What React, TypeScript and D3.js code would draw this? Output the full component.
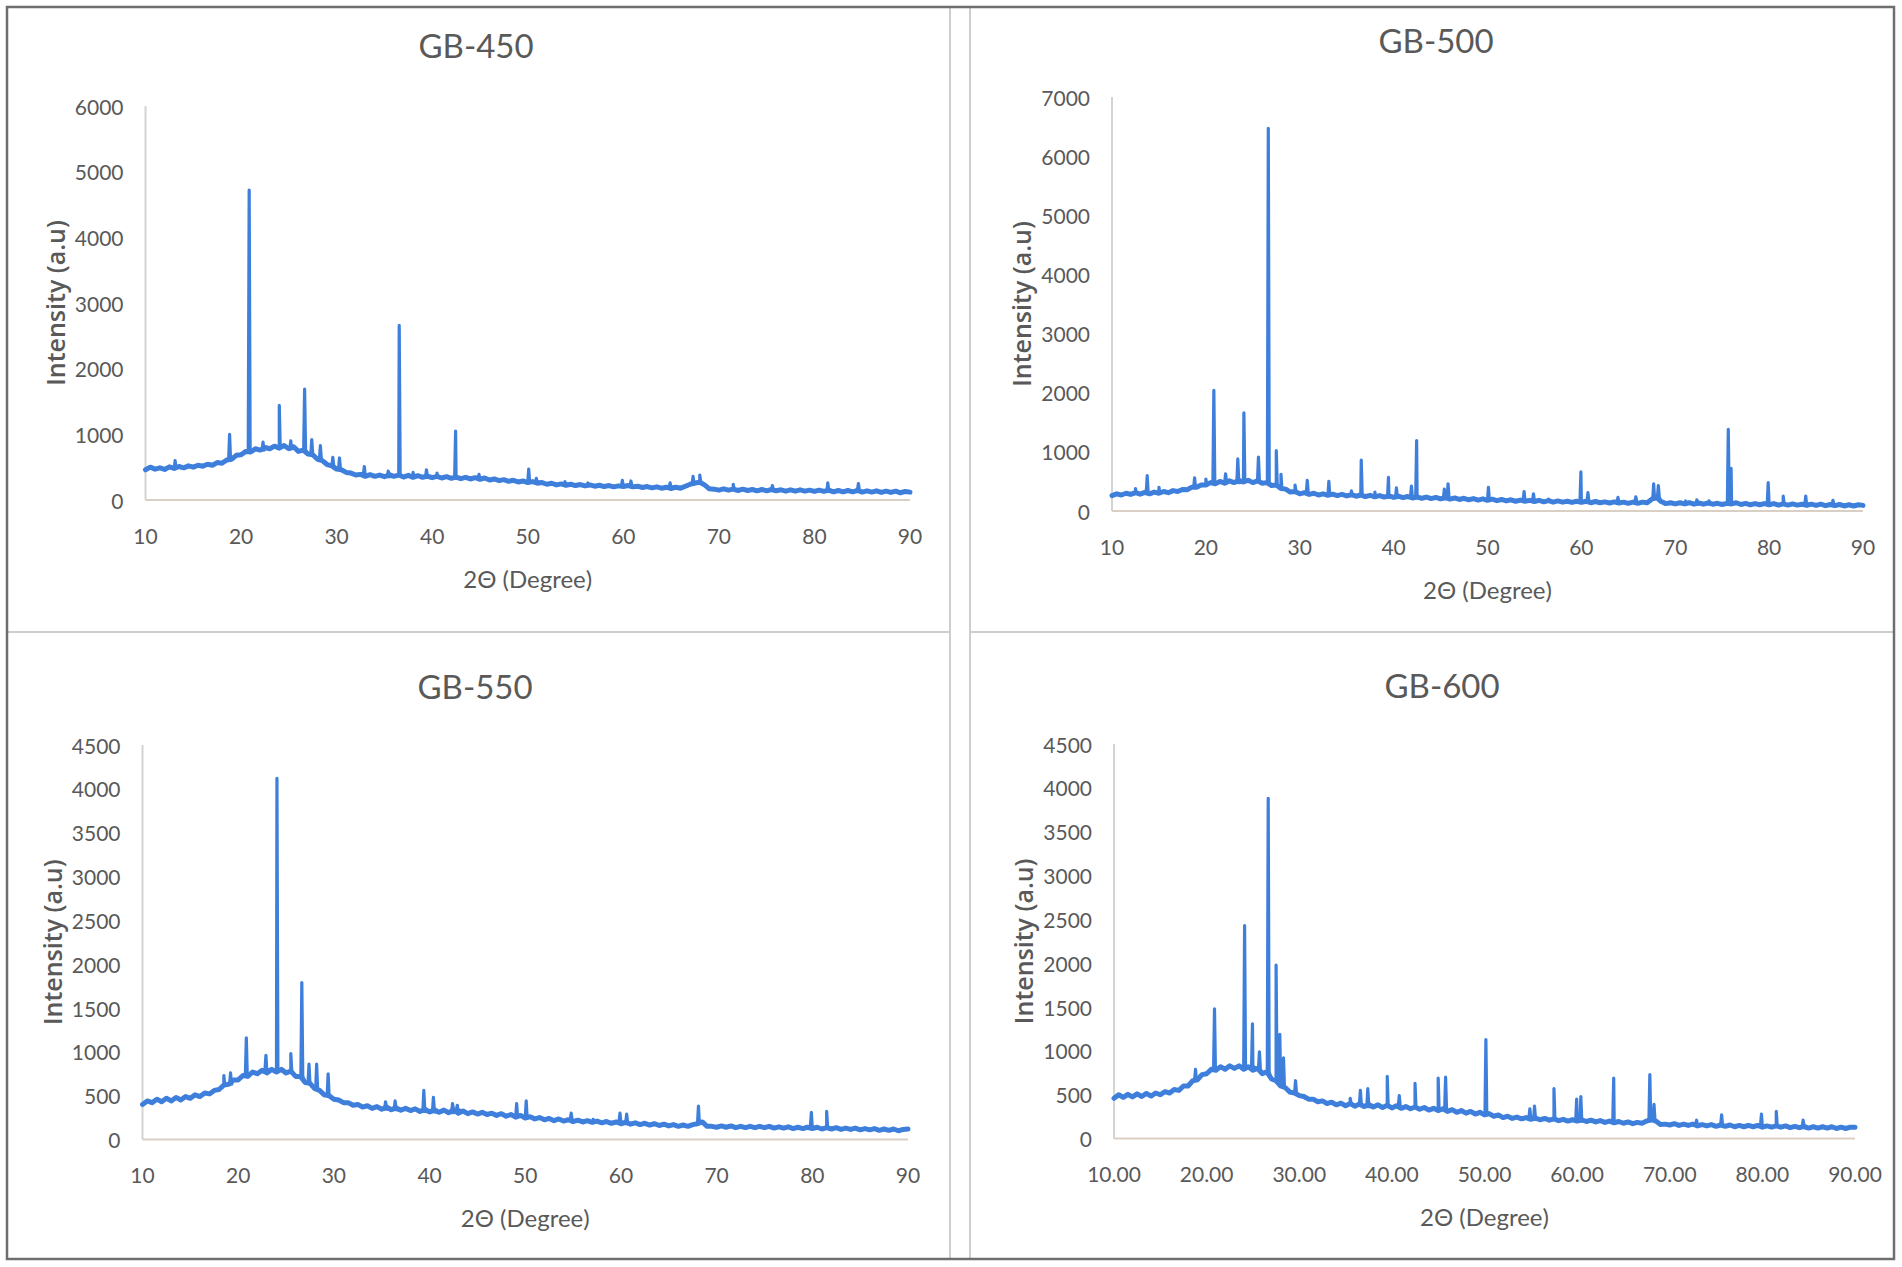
import React from "react";
import * as d3 from "d3";

// ---- Data ----
// Baseline intensities sampled every 0.5° from 10° to 90° (161 samples)
const STEP_START = 10;
const STEP_SIZE = 0.5;

const titles = ["GB-450", "GB-500", "GB-550", "GB-600"];
const yMaxes = [6000, 7000, 4500, 4500];
const yTickSteps = [1000, 1000, 500, 500];
const xTicks = [10, 20, 30, 40, 50, 60, 70, 80, 90];
const xTickDecimals = [0, 0, 0, 2];

const base450 = [
  460, 500, 470, 490, 465, 505, 480, 510, 490, 520,
  500, 530, 515, 545, 530, 570, 560, 610, 620, 680,
  690, 740, 730, 780, 760, 800, 780, 820, 790, 830,
  780, 810, 740, 760, 700, 690, 620, 600, 540, 520,
  470, 460, 420, 410, 380, 390, 360, 385, 360, 380,
  355, 385, 360, 380, 350, 375, 345, 370, 345, 365,
  340, 360, 335, 355, 330, 350, 325, 345, 320, 340,
  315, 335, 305, 320, 295, 310, 285, 300, 275, 290,
  265, 280, 255, 265, 240, 255, 230, 245, 225, 240,
  220, 235, 215, 230, 210, 225, 205, 220, 200, 215,
  205, 220, 200, 210, 190, 205, 185, 200, 180, 195,
  175, 195, 180, 210, 240, 260, 270, 230, 170, 165,
  150, 170, 150, 165, 145, 165, 145, 160, 140, 160,
  140, 160, 140, 155, 135, 155, 135, 155, 135, 150,
  130, 150, 130, 150, 125, 145, 125, 145, 125, 145,
  120, 140, 120, 140, 115, 135, 115, 135, 110, 130,
  120,
];

const base500 = [
  260, 290, 270, 300, 280, 310, 285, 315, 290, 320,
  300, 330, 310, 345, 330, 365, 360, 400, 400, 440,
  440, 480, 460, 500, 470, 510, 480, 520, 490, 520,
  480, 510, 470, 480, 430, 440, 380, 370, 320, 330,
  290, 310, 280, 300, 270, 290, 265, 285, 260, 280,
  255, 275, 250, 270, 245, 265, 240, 260, 235, 255,
  230, 250, 225, 245, 220, 240, 215, 235, 210, 230,
  205, 225, 200, 220, 195, 215, 190, 210, 185, 205,
  180, 200, 175, 195, 170, 190, 165, 185, 165, 180,
  160, 180, 155, 175, 150, 170, 150, 165, 145, 165,
  145, 165, 140, 160, 140, 155, 135, 155, 135, 150,
  130, 150, 130, 150, 140, 200, 230, 160, 125, 140,
  120, 140, 120, 140, 115, 135, 115, 135, 115, 130,
  110, 130, 120, 140, 110, 130, 105, 125, 105, 125,
  105, 125, 100, 120, 100, 120, 100, 115, 95, 115,
  95, 115, 90, 110, 90, 110, 85, 105, 85, 105,
  95,
];

const base550 = [
  400, 440, 420, 460, 430, 470, 440, 480, 450, 490,
  470, 510, 490, 530, 520, 560, 570, 620, 630, 680,
  680, 730, 720, 770, 750, 790, 760, 800, 770, 800,
  760, 780, 720, 720, 650, 640, 580, 560, 510, 500,
  460, 450, 420, 420, 390, 400, 370, 385, 355, 375,
  345, 370, 340, 360, 335, 355, 330, 350, 320, 345,
  315, 340, 310, 335, 305, 340, 300, 325, 295, 315,
  290, 310, 285, 300, 275, 295, 265, 285, 255, 275,
  245, 260, 235, 250, 225, 240, 215, 235, 210, 225,
  205, 220, 200, 215, 195, 210, 190, 205, 185, 200,
  180, 195, 175, 190, 170, 185, 165, 180, 160, 175,
  155, 170, 150, 165, 150, 170, 180, 200, 150, 150,
  140, 155, 140, 155, 135, 150, 135, 150, 135, 150,
  135, 150, 130, 145, 130, 145, 125, 140, 125, 140,
  125, 140, 120, 135, 120, 135, 115, 130, 115, 130,
  110, 125, 110, 125, 105, 120, 105, 120, 100, 115,
  120,
];

const base600 = [
  460, 500, 470, 505, 475, 510, 480, 515, 485, 520,
  500, 535, 520, 560, 550, 600, 600, 660, 670, 730,
  740, 790, 780, 820, 790, 830, 800, 830, 790, 820,
  780, 800, 740, 760, 680, 660, 600, 580, 530, 520,
  490, 480, 450, 450, 420, 430, 400, 415, 385, 405,
  375, 400, 370, 395, 365, 390, 360, 385, 355, 380,
  350, 375, 345, 365, 340, 360, 335, 355, 325, 345,
  320, 340, 310, 330, 300, 320, 290, 310, 280, 300,
  270, 285, 255, 270, 240, 255, 230, 245, 225, 240,
  220, 235, 215, 230, 210, 225, 205, 220, 200, 215,
  200, 215, 195, 210, 190, 205, 185, 200, 180, 195,
  175, 190, 170, 185, 175, 200, 220, 200, 160, 165,
  155, 170, 150, 165, 150, 165, 145, 160, 145, 160,
  140, 155, 140, 155, 135, 150, 135, 150, 135, 150,
  130, 145, 130, 145, 130, 145, 125, 140, 125, 140,
  120, 135, 120, 135, 120, 135, 115, 130, 115, 130,
  130,
];

// Peaks: [2θ position, peak intensity]
const peaks450: [number, number][] = [
  [13.1, 600], [18.8, 1000], [20.85, 4720], [22.3, 880], [24.0, 1440],
  [25.2, 900], [26.65, 1690], [27.4, 920], [28.3, 830], [29.6, 650],
  [30.3, 640], [32.9, 510], [35.4, 440], [36.55, 2660], [38.0, 420],
  [39.4, 460], [40.5, 410], [42.45, 1050], [44.9, 390], [50.1, 470],
  [50.9, 330], [53.9, 280], [56.3, 260], [59.9, 300], [60.8, 290],
  [64.9, 260], [67.3, 360], [68.0, 380], [71.5, 240], [75.6, 220],
  [81.4, 260], [84.6, 250],
];

const peaks500: [number, number][] = [
  [12.5, 380], [13.75, 600], [15.0, 400], [18.8, 560], [20.0, 540],
  [20.85, 2040], [22.1, 630], [23.4, 880], [24.05, 1660], [25.6, 910],
  [26.65, 6470], [27.5, 1020], [28.0, 620], [29.5, 440], [30.8, 520],
  [33.1, 500], [35.5, 340], [36.55, 860], [38.0, 320], [39.45, 570],
  [40.3, 390], [41.9, 420], [42.45, 1190], [45.4, 370], [45.8, 460],
  [50.1, 400], [53.9, 330], [54.9, 290], [56.5, 200], [59.95, 660],
  [60.7, 310], [63.9, 230], [65.8, 240], [67.7, 460], [68.2, 430],
  [71.1, 170], [72.3, 190], [73.6, 170], [75.65, 1380], [75.95, 720],
  [79.9, 480], [81.5, 250], [83.9, 250], [86.8, 180],
];

const peaks550: [number, number][] = [
  [18.5, 730], [19.2, 760], [20.85, 1160], [22.9, 960], [24.05, 4120],
  [25.5, 980], [26.65, 1790], [27.4, 860], [28.2, 860], [29.4, 750],
  [35.4, 430], [36.4, 440], [39.4, 560], [40.4, 480], [42.4, 410],
  [42.9, 390], [49.1, 410], [50.1, 440], [54.8, 300], [57.1, 230],
  [59.9, 300], [60.6, 290], [68.1, 380], [79.9, 310], [81.5, 320],
];

const peaks600: [number, number][] = [
  [18.8, 790], [20.85, 1480], [24.1, 2430], [24.95, 1310], [25.7, 990],
  [26.65, 3880], [27.5, 1980], [27.9, 1190], [28.3, 920], [29.6, 660],
  [35.5, 460], [36.6, 550], [37.4, 570], [39.5, 710], [40.8, 490],
  [42.5, 630], [45.0, 690], [45.8, 700], [50.15, 1130], [54.9, 340],
  [55.4, 370], [57.5, 570], [59.95, 450], [60.4, 480], [63.95, 690],
  [67.85, 730], [68.3, 390], [72.9, 210], [75.6, 270], [79.9, 280],
  [81.5, 310], [84.4, 210],
];

const baselines = [base450, base500, base550, base600];
const peakLists = [peaks450, peaks500, peaks550, peaks600];

// ---- Layout ----
const W = 1902;
const H = 1267;
const panelRects = [
  { x: 7, y: 7, w: 943, h: 625 },
  { x: 970, y: 7, w: 924, h: 625 },
  { x: 7, y: 632, w: 943, h: 627 },
  { x: 970, y: 632, w: 924, h: 627 },
];
const plotAreas = [
  { left: 145.5, right: 910, top: 106, bottom: 500, titleX: 476, titleY: 45 },
  { left: 1112, right: 1863, top: 97, bottom: 511, titleX: 1436, titleY: 40 },
  { left: 142.5, right: 908, top: 745, bottom: 1139.5, titleX: 475, titleY: 686 },
  { left: 1114, right: 1855, top: 744, bottom: 1138.6, titleX: 1442, titleY: 684.5 },
];

const LINE_COLOR = "#3f7fdc";
const TEXT_COLOR = "#595959";
const FONT = "Lato, 'Open Sans', sans-serif";

function baseSeries(base: number[]): [number, number][] {
  return base.map((v, i) => [STEP_START + i * STEP_SIZE, v]);
}

function buildSeries(base: number[], peaks: [number, number][]): [number, number][] {
  const pts: [number, number][] = baseSeries(base);
  for (const [p, h] of peaks) {
    const i = Math.max(0, Math.min(base.length - 1, Math.floor((p - STEP_START) / STEP_SIZE)));
    const b = base[i];
    pts.push([p - 0.1, b], [p, h], [p + 0.1, b]);
  }
  pts.sort((a, b) => a[0] - b[0]);
  return pts;
}

function Panel({ idx }: { idx: number }) {
  const a = plotAreas[idx];
  const x = d3.scaleLinear().domain([10, 90]).range([a.left, a.right]);
  const y = d3.scaleLinear().domain([0, yMaxes[idx]]).range([a.bottom, a.top]);
  const yTicks = d3.range(0, yMaxes[idx] + 1, yTickSteps[idx]);
  const data = buildSeries(baselines[idx], peakLists[idx]);
  const line = d3
    .line<[number, number]>()
    .x((d) => x(d[0]))
    .y((d) => y(d[1]));
  const fmt = d3.format(`.${xTickDecimals[idx]}f`);
  const cx = (a.left + a.right) / 2;
  const cy = (a.top + a.bottom) / 2;
  return (
    <g>
      <text
        x={a.titleX}
        y={a.titleY}
        textAnchor="middle"
        dominantBaseline="central"
        fontFamily={FONT}
        fontSize={33}
        fill={TEXT_COLOR}
      >
        {titles[idx]}
      </text>
      {/* axes */}
      <line x1={a.left} x2={a.left} y1={a.top} y2={a.bottom} stroke="#d4d4d4" strokeWidth={2} />
      <line x1={a.left} x2={a.right} y1={a.bottom} y2={a.bottom} stroke="#d9cfc5" strokeWidth={2} />
      {yTicks.map((t) => (
        <text
          key={"y" + t}
          x={a.left - 22}
          y={y(t)}
          textAnchor="end"
          dominantBaseline="central"
          fontFamily={FONT}
          fontSize={21}
          fill={TEXT_COLOR}
        >
          {t}
        </text>
      ))}
      {xTicks.map((t) => (
        <text
          key={"x" + t}
          x={x(t)}
          y={a.bottom + 35}
          textAnchor="middle"
          dominantBaseline="central"
          fontFamily={FONT}
          fontSize={21}
          fill={TEXT_COLOR}
        >
          {fmt(t)}
        </text>
      ))}
      <text
        x={cx}
        y={a.bottom + 78}
        textAnchor="middle"
        dominantBaseline="central"
        fontFamily={FONT}
        fontSize={24}
        fill={TEXT_COLOR}
      >
        2Θ (Degree)
      </text>
      <text
        transform={`translate(${a.left - 91},${cy}) rotate(-90)`}
        textAnchor="middle"
        dominantBaseline="central"
        fontFamily="'Open Sans', Lato, sans-serif"
        fontWeight={600}
        fontSize={25}
        fill={TEXT_COLOR}
      >
        Intensity (a.u)
      </text>
      {/* noisy baseline band */}
      <path
        d={line(baseSeries(baselines[idx])) || ""}
        fill="none"
        stroke={LINE_COLOR}
        strokeWidth={5}
        strokeLinejoin="round"
        strokeLinecap="round"
      />
      <path
        d={line(data) || ""}
        fill="none"
        stroke={LINE_COLOR}
        strokeWidth={3.2}
        strokeLinejoin="round"
        strokeLinecap="round"
      />
    </g>
  );
}

export default function App() {
  return (
    <svg
      width={W}
      height={H}
      viewBox={`0 0 ${W} ${H}`}
      style={{ position: "absolute", left: 0, top: 0, background: "#ffffff" }}
    >
      <rect x={0} y={0} width={W} height={H} fill="#ffffff" />
      {panelRects.map((r, i) => (
        <rect key={i} x={r.x} y={r.y} width={r.w} height={r.h} fill="none" stroke="#cdcdcd" strokeWidth={2} />
      ))}
      {[0, 1, 2, 3].map((i) => (
        <Panel key={i} idx={i} />
      ))}
      <rect x={7} y={7} width={1887} height={1252} fill="none" stroke="#6e6e6e" strokeWidth={2.5} />
    </svg>
  );
}
